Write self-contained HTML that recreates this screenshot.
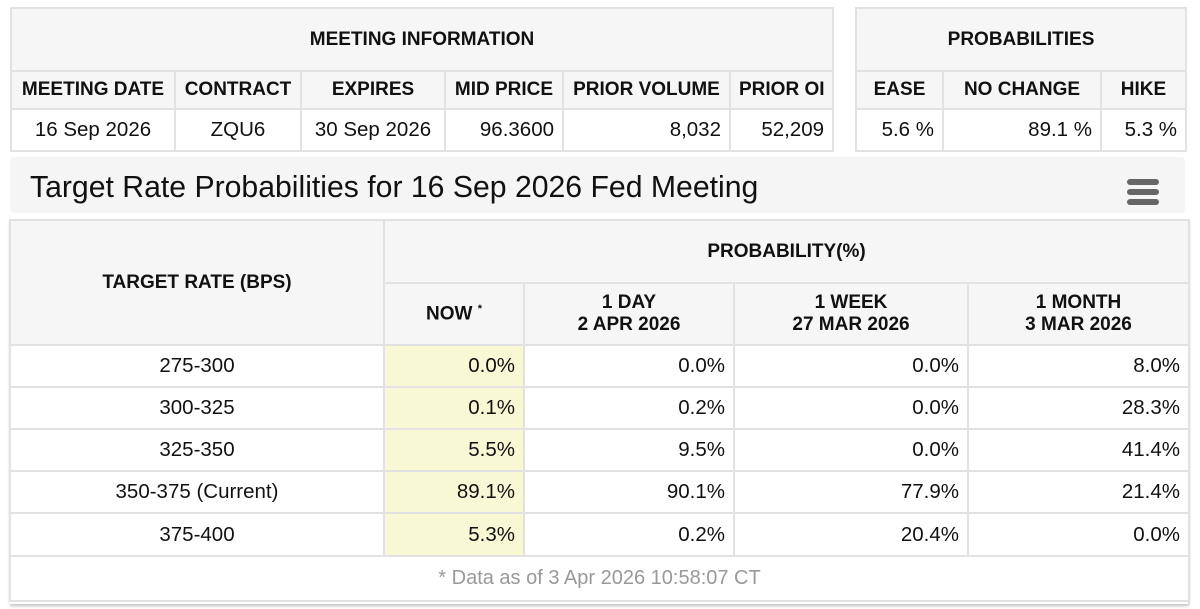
<!DOCTYPE html>
<html><head><meta charset="utf-8"><style>
body{margin:0;width:1200px;height:609px;background:#fff;font-family:"Liberation Sans",Arial,sans-serif;color:#111;position:relative;overflow:hidden}
table{border-collapse:collapse;position:absolute;table-layout:fixed}
td{border:2px solid #e2e2e2;padding:0 8px;font-size:20.5px;overflow:hidden;white-space:nowrap}
.h td,td.h{background:#f6f6f6;font-weight:bold;text-align:center;font-size:19px}
.r{text-align:right}.c{text-align:center}
.y{background:#f9f8d4}
#title{position:absolute;left:10px;top:157px;width:1175px;height:56px;background:#f5f5f5;border-radius:4px}
#title span{position:absolute;left:20px;top:14px;font-size:30.2px;color:#111}
.bar{position:absolute;width:32px;height:6px;border-radius:3px;background:#666}
</style></head><body>
<table style="left:10px;top:7px;width:822px">
<colgroup><col style="width:164px"><col style="width:126px"><col style="width:144px"><col style="width:118px"><col style="width:167px"><col style="width:103px"></colgroup>
<tr class="h" style="height:63px"><td colspan="6">MEETING INFORMATION</td></tr>
<tr class="h" style="height:38px"><td>MEETING DATE</td><td>CONTRACT</td><td>EXPIRES</td><td>MID PRICE</td><td>PRIOR VOLUME</td><td>PRIOR OI</td></tr>
<tr style="height:42px"><td class="c">16 Sep 2026</td><td class="c">ZQU6</td><td class="c">30 Sep 2026</td><td class="r">96.3600</td><td class="r">8,032</td><td class="r">52,209</td></tr>
</table>
<table style="left:855px;top:7px;width:330px">
<colgroup><col style="width:87px"><col style="width:158px"><col style="width:85px"></colgroup>
<tr class="h" style="height:63px"><td colspan="3">PROBABILITIES</td></tr>
<tr class="h" style="height:38px"><td>EASE</td><td>NO CHANGE</td><td>HIKE</td></tr>
<tr style="height:42px"><td class="r">5.6 %</td><td class="r">89.1 %</td><td class="r">5.3 %</td></tr>
</table>
<div id="title"><span>Target Rate Probabilities for 16 Sep 2026 Fed Meeting</span>
<div class="bar" style="top:22px;left:1117px"></div><div class="bar" style="top:32px;left:1117px"></div><div class="bar" style="top:42px;left:1117px"></div></div>
<div style="position:absolute;left:9px;top:220px;width:1179px;height:384px;box-shadow:1px 2px 3px rgba(0,0,0,.25)"></div>
<table style="left:9px;top:219px;width:1179px;background:#fff">
<colgroup><col style="width:374px"><col style="width:140px"><col style="width:210px"><col style="width:234px"><col style="width:221px"></colgroup>
<tr class="h" style="height:63px"><td rowspan="2">TARGET RATE (BPS)</td><td colspan="4">PROBABILITY(%)</td></tr>
<tr class="h" style="height:62px"><td>NOW <sup style="font-size:11px">*</sup></td><td>1 DAY<br>2 APR 2026</td><td>1 WEEK<br>27 MAR 2026</td><td>1 MONTH<br>3 MAR 2026</td></tr>
<tr style="height:42px"><td class="c">275-300</td><td class="r y">0.0%</td><td class="r">0.0%</td><td class="r">0.0%</td><td class="r">8.0%</td></tr>
<tr style="height:42px"><td class="c">300-325</td><td class="r y">0.1%</td><td class="r">0.2%</td><td class="r">0.0%</td><td class="r">28.3%</td></tr>
<tr style="height:42px"><td class="c">325-350</td><td class="r y">5.5%</td><td class="r">9.5%</td><td class="r">0.0%</td><td class="r">41.4%</td></tr>
<tr style="height:42px"><td class="c">350-375 (Current)</td><td class="r y">89.1%</td><td class="r">90.1%</td><td class="r">77.9%</td><td class="r">21.4%</td></tr>
<tr style="height:43px"><td class="c">375-400</td><td class="r y">5.3%</td><td class="r">0.2%</td><td class="r">20.4%</td><td class="r">0.0%</td></tr>
<tr style="height:45px"><td colspan="5" class="c" style="color:#999;font-size:20px">* Data as of 3 Apr 2026 10:58:07 CT</td></tr>
</table>
</body></html>
